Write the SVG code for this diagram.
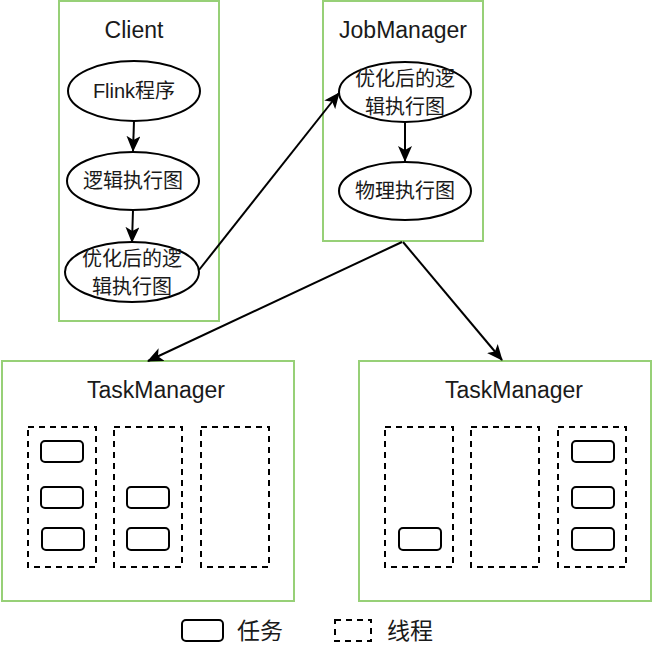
<svg xmlns="http://www.w3.org/2000/svg" width="652" height="662" viewBox="0 0 652 662">
<style>
.box{fill:#fff;stroke:#97D077;stroke-width:2}
.ell{fill:#fff;stroke:#000;stroke-width:2}
.thr{fill:none;stroke:#000;stroke-width:2;stroke-dasharray:6 5}
.task{fill:#fff;stroke:#000;stroke-width:2}
.lbl{font-family:"Liberation Sans","Noto Sans CJK SC",sans-serif;font-size:23px;fill:#1a1a1a;text-anchor:middle}
.et{font-family:"Liberation Sans","Noto Sans CJK SC",sans-serif;font-size:20px;fill:#1a1a1a;text-anchor:middle}
.edge{fill:none;stroke:#000;stroke-width:2;marker-end:url(#ah)}
</style>
<defs>
<marker id="ah" viewBox="0 0 16 14" refX="15" refY="7" markerWidth="16" markerHeight="14" markerUnits="userSpaceOnUse" orient="auto">
<path d="M0,0 L16,7 L0,14 L4,7 Z" fill="#000"/>
</marker>
</defs>
<g id="client">
<rect class="box" x="59" y="1" width="160" height="320"/>
<text class="lbl" x="134" y="38">Client</text>
</g>
<g id="flink">
<ellipse class="ell" cx="134" cy="91" rx="66" ry="30"/>
<text class="et" x="134" y="98">Flink程序</text>
</g>
<g id="logic">
<ellipse class="ell" cx="133" cy="181" rx="66" ry="29"/>
<text class="et" x="133" y="188">逻辑执行图</text>
</g>
<g id="optc">
<ellipse class="ell" cx="132" cy="272" rx="67" ry="30"/>
<text class="et" x="132" y="266">优化后的逻</text>
<text class="et" x="132" y="294">辑执行图</text>
</g>
<g id="jobmanager">
<rect class="box" x="323" y="1" width="160" height="240"/>
<text class="lbl" x="403" y="38">JobManager</text>
</g>
<g id="optj">
<ellipse class="ell" cx="405" cy="92" rx="66" ry="30"/>
<text class="et" x="405" y="86">优化后的逻</text>
<text class="et" x="405" y="114">辑执行图</text>
</g>
<g id="phys">
<ellipse class="ell" cx="405" cy="191" rx="66" ry="29"/>
<text class="et" x="405" y="198">物理执行图</text>
</g>
<g id="tm1">
<rect class="box" x="2" y="361" width="292" height="240"/>
<text class="lbl" x="156" y="398">TaskManager</text>
<rect class="thr" x="28" y="427" width="68" height="140"/>
<rect class="thr" x="114" y="427" width="68" height="140"/>
<rect class="thr" x="201" y="427" width="68" height="140"/>
<rect class="task" x="41" y="441" width="42" height="21" rx="4"/>
<rect class="task" x="41" y="487" width="42" height="21" rx="4"/>
<rect class="task" x="42" y="528" width="42" height="22" rx="4"/>
<rect class="task" x="127" y="487" width="42" height="21" rx="4"/>
<rect class="task" x="127" y="528" width="42" height="22" rx="4"/>
</g>
<g id="tm2">
<rect class="box" x="359" y="361" width="292" height="240"/>
<text class="lbl" x="514" y="398">TaskManager</text>
<rect class="thr" x="385" y="427" width="68" height="140"/>
<rect class="thr" x="471" y="427" width="68" height="140"/>
<rect class="thr" x="558" y="427" width="68" height="140"/>
<rect class="task" x="399" y="528" width="42" height="22" rx="4"/>
<rect class="task" x="572" y="441" width="42" height="21" rx="4"/>
<rect class="task" x="572" y="487" width="42" height="21" rx="4"/>
<rect class="task" x="572" y="528" width="42" height="22" rx="4"/>
</g>
<g id="legend">
<rect class="task" x="182" y="620" width="41" height="21" rx="4"/>
<text class="lbl" x="237" y="639" style="text-anchor:start">任务</text>
<rect class="thr" x="335" y="620" width="36" height="21"/>
<text class="lbl" x="387" y="639" style="text-anchor:start">线程</text>
</g>
<g id="connectors">
<line class="edge" x1="134" y1="121" x2="133" y2="151"/>
<line class="edge" x1="133" y1="210" x2="132" y2="242"/>
<line class="edge" x1="199" y1="270" x2="339" y2="93"/>
<line class="edge" x1="405" y1="122" x2="405" y2="161"/>
<line class="edge" x1="402" y1="242" x2="148" y2="361"/>
<line class="edge" x1="403" y1="242" x2="502" y2="360"/>
</g>
</svg>
